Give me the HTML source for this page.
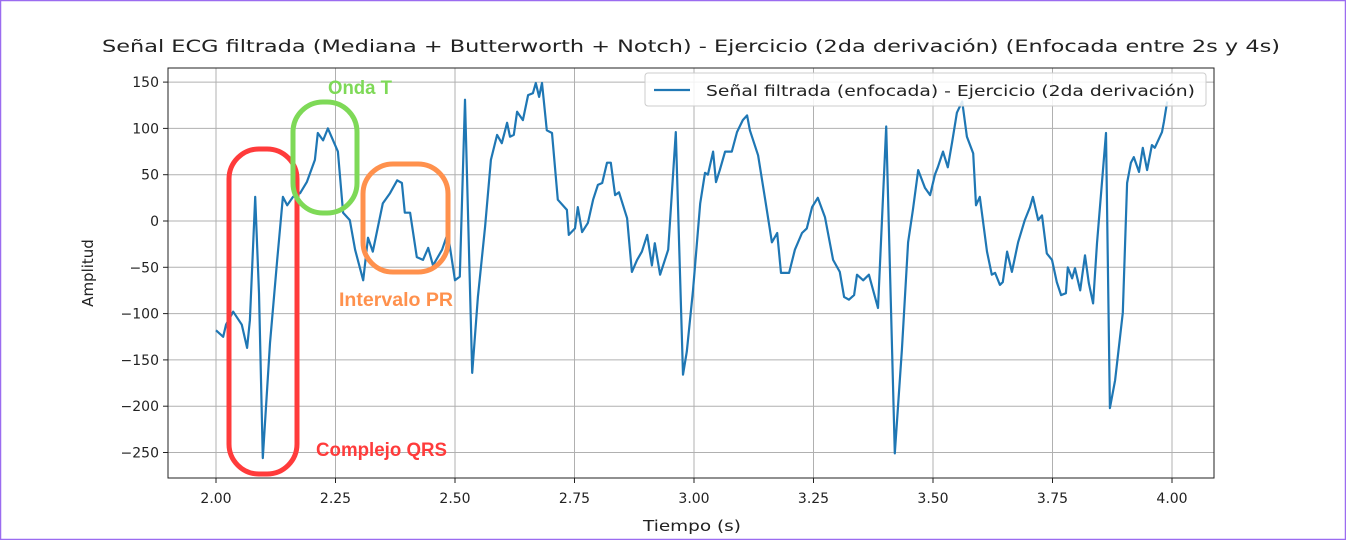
<!DOCTYPE html>
<html><head><meta charset="utf-8"><style>
body{margin:0;background:#fff;}
svg{display:block;font-family:"DejaVu Sans","Liberation Sans",sans-serif;}
</style></head><body>
<svg id="chart" width="1346" height="540" viewBox="0 0 1346 540">
<rect x="0.5" y="0.5" width="1345" height="539" fill="#fff" stroke="#9b6cf0" stroke-width="1.5"/>
<text x="102" y="52" font-size="16.5" fill="#222" textLength="1178" lengthAdjust="spacingAndGlyphs">Señal ECG filtrada (Mediana + Butterworth + Notch) - Ejercicio (2da derivación) (Enfocada entre 2s y 4s)</text>
<g id="grid"></g>
<g id="ticks"></g>
<path id="line" fill="none" stroke="#1f77b4" stroke-width="2.2" stroke-linejoin="round"/>
<rect x="168" y="68" width="1046" height="410" fill="none" stroke="#222" stroke-width="1"/>
<g>
<rect x="645" y="73" width="561" height="33" rx="3" fill="#fff" fill-opacity="0.85" stroke="#ccc"/>
<line x1="654" y1="90" x2="690" y2="90" stroke="#1f77b4" stroke-width="2.2"/>
<text x="706" y="96" font-size="15" fill="#222" textLength="489" lengthAdjust="spacingAndGlyphs">Señal filtrada (enfocada) - Ejercicio (2da derivación)</text>
</g>
<text x="643" y="531" font-size="15" fill="#222" textLength="98" lengthAdjust="spacingAndGlyphs">Tiempo (s)</text>
<text transform="translate(93,273) rotate(-90)" text-anchor="middle" font-size="15" fill="#222">Amplitud</text>
<rect x="229" y="149" width="68" height="325" rx="30" fill="none" stroke="#ff3b3b" stroke-width="5"/>
<rect x="293" y="102" width="64" height="111" rx="30" fill="none" stroke="#7ed957" stroke-width="5"/>
<rect x="363" y="164" width="85" height="108" rx="30" fill="none" stroke="#ff914d" stroke-width="5"/>
<text x="328" y="94" font-family="Liberation Sans, sans-serif" font-weight="bold" font-size="19" fill="#7ed957" textLength="64" lengthAdjust="spacingAndGlyphs">Onda T</text>
<text x="339" y="306" font-family="Liberation Sans, sans-serif" font-weight="bold" font-size="19" fill="#ff914d" textLength="114" lengthAdjust="spacingAndGlyphs">Intervalo PR</text>
<text x="316" y="456" font-family="Liberation Sans, sans-serif" font-weight="bold" font-size="19" fill="#ff3b3b" textLength="131" lengthAdjust="spacingAndGlyphs">Complejo QRS</text>
</svg>
<script>
const xTicks=[2.00,2.25,2.50,2.75,3.00,3.25,3.50,3.75,4.00];
const yTicks=[150,100,50,0,-50,-100,-150,-200,-250];
const times=[2.000,2.015,2.021,2.036,2.054,2.065,2.071,2.082,2.090,2.098,2.113,2.128,2.140,2.149,2.161,2.176,2.190,2.207,2.213,2.224,2.234,2.255,2.266,2.280,2.291,2.308,2.318,2.328,2.349,2.364,2.379,2.389,2.395,2.406,2.420,2.433,2.444,2.454,2.473,2.485,2.500,2.510,2.521,2.536,2.548,2.563,2.575,2.588,2.598,2.609,2.615,2.623,2.630,2.642,2.653,2.663,2.669,2.676,2.682,2.692,2.703,2.715,2.734,2.738,2.751,2.757,2.766,2.778,2.789,2.799,2.808,2.818,2.826,2.835,2.843,2.860,2.870,2.881,2.891,2.902,2.912,2.918,2.929,2.946,2.962,2.977,2.985,2.998,3.013,3.023,3.029,3.040,3.046,3.054,3.065,3.079,3.090,3.102,3.111,3.117,3.134,3.149,3.163,3.174,3.182,3.199,3.211,3.226,3.236,3.247,3.259,3.274,3.291,3.305,3.314,3.324,3.335,3.341,3.354,3.366,3.385,3.402,3.420,3.435,3.448,3.458,3.469,3.483,3.494,3.504,3.510,3.521,3.531,3.540,3.550,3.561,3.571,3.584,3.590,3.598,3.613,3.623,3.630,3.640,3.646,3.655,3.665,3.678,3.692,3.703,3.709,3.720,3.728,3.738,3.749,3.759,3.768,3.778,3.782,3.791,3.797,3.808,3.818,3.826,3.835,3.843,3.862,3.870,3.881,3.897,3.906,3.914,3.920,3.931,3.939,3.948,3.958,3.964,3.979,3.983,3.990];
const amplitudes=[-118,-125,-112,-98,-112,-137,-107,26,-78,-256,-132,-42,26,17,26,30,42,66,95,87,100,75,9,1,-31,-64,-18,-33,19,30,44,41,9,9,-39,-42,-29,-48,-31,-13,-64,-60,131,-164,-82,-6,66,93,84,106,91,93,118,109,136,138,149,134,149,98,95,23,12,-15,-8,15,-12,-2,23,39,41,63,63,28,31,3,-55,-42,-33,-15,-48,-24,-58,-31,96,-166,-141,-75,19,52,50,75,42,55,75,75,96,109,114,98,71,23,-23,-13,-56,-56,-31,-13,-8,15,25,4,-42,-55,-82,-85,-80,-58,-64,-58,-94,102,-251,-139,-23,12,55,36,28,50,58,75,58,85,117,129,91,73,17,26,-33,-58,-56,-69,-66,-33,-55,-23,1,15,26,1,6,-35,-42,-66,-80,-78,-50,-62,-51,-75,-37,-67,-89,-24,95,-202,-172,-99,41,63,69,53,79,55,82,79,96,107,129,133];
const X0=168,X1=1214,Y0=68,Y1=478;
function sx(t){return 216+(t-2)*478;}
function sy(v){return 221-v*0.926;}
const NS="http://www.w3.org/2000/svg";
const grid=document.getElementById('grid'),ticks=document.getElementById('ticks');
xTicks.forEach(t=>{
 const l=document.createElementNS(NS,'line');
 l.setAttribute('x1',sx(t));l.setAttribute('x2',sx(t));l.setAttribute('y1',Y0);l.setAttribute('y2',Y1);
 l.setAttribute('stroke','#b0b0b0');l.setAttribute('stroke-width','1');
 
 
 grid.appendChild(l);
 const k=document.createElementNS(NS,'line');
 k.setAttribute('x1',sx(t));k.setAttribute('x2',sx(t));k.setAttribute('y1',Y1);k.setAttribute('y2',Y1+5);k.setAttribute('stroke','#222');
 
 
 ticks.appendChild(k);
 const tx=document.createElementNS(NS,'text');
 tx.setAttribute('x',sx(t));tx.setAttribute('y',503);tx.setAttribute('text-anchor','middle');tx.setAttribute('font-size','14');tx.setAttribute('fill','#222');
 tx.textContent=t.toFixed(2);
 
 
 ticks.appendChild(tx);
});
yTicks.forEach(v=>{
 const l=document.createElementNS(NS,'line');
 l.setAttribute('x1',X0);l.setAttribute('x2',X1);l.setAttribute('y1',sy(v));l.setAttribute('y2',sy(v));
 l.setAttribute('stroke','#b0b0b0');l.setAttribute('stroke-width','1');
 
 
 grid.appendChild(l);
 const k=document.createElementNS(NS,'line');
 k.setAttribute('x1',X0-5);k.setAttribute('x2',X0);k.setAttribute('y1',sy(v));k.setAttribute('y2',sy(v));k.setAttribute('stroke','#222');
 
 
 ticks.appendChild(k);
 const tx=document.createElementNS(NS,'text');
 tx.setAttribute('x',X0-9);tx.setAttribute('y',sy(v)+5);tx.setAttribute('text-anchor','end');tx.setAttribute('font-size','14');tx.setAttribute('fill','#222');
 tx.textContent=(v<0?'\u2212'+(-v):String(v));
 
 
 ticks.appendChild(tx);
});
let d='';
times.forEach((t,i)=>{d+=(i?'L':'M')+sx(t).toFixed(1)+','+sy(amplitudes[i]).toFixed(1);});
document.getElementById('line').setAttribute('d',d);
</script>
</body></html>
